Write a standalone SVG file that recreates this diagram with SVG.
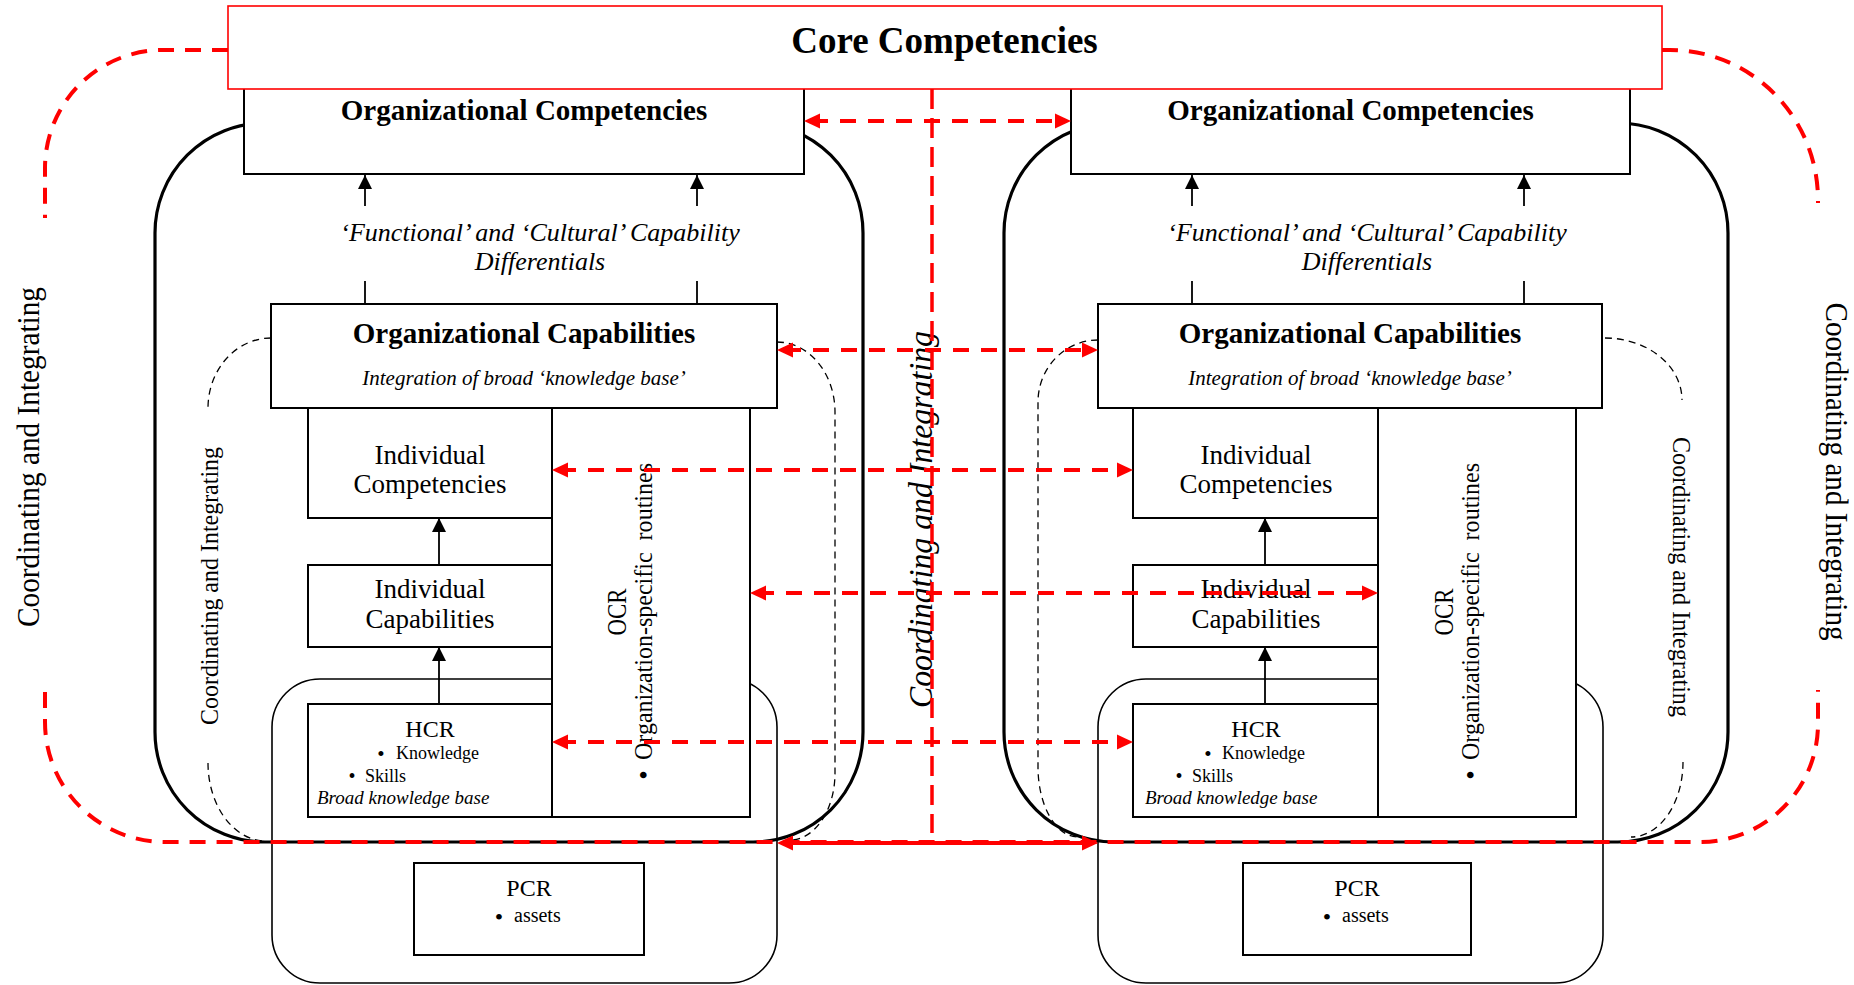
<svg xmlns="http://www.w3.org/2000/svg" width="1854" height="985" viewBox="0 0 1854 985">
<defs>
<style>
text{font-family:"Liberation Serif","Times New Roman",serif;fill:#000}
.box{fill:#fff;stroke:#000;stroke-width:2}
.big{fill:none;stroke:#000;stroke-width:3.2}
.inner{fill:none;stroke:#000;stroke-width:1.6}
.thin{fill:none;stroke:#000;stroke-width:1.3;stroke-dasharray:7 5}
.red{fill:none;stroke:#f00;stroke-width:4;stroke-dasharray:16 12}
.loop{fill:none;stroke:#f00;stroke-width:4;stroke-dasharray:16 11}
.vline{fill:none;stroke:#f00;stroke-width:3.5;stroke-dasharray:20 9}
.solidred{fill:none;stroke:#f00;stroke-width:4}
.blk{stroke:#000;stroke-width:1.8;fill:none}
.b{font-weight:bold}
.i{font-style:italic}
.m{text-anchor:middle}
</style>
<marker id="ra" markerUnits="userSpaceOnUse" markerWidth="16" markerHeight="16" viewBox="0 0 16 16" refX="8" refY="8" orient="auto-start-reverse"><path d="M0,0.5 L16,8 L0,15.5 Z" fill="#f00"/></marker>
<marker id="ba" markerUnits="userSpaceOnUse" markerWidth="14" markerHeight="14" viewBox="0 0 14 14" refX="14" refY="7" orient="auto"><path d="M0,0 L14,7 L0,14 Z" fill="#000"/></marker>
</defs>
<rect width="1854" height="985" fill="#fff"/>

<!-- containers -->
<g id="firm-L">
<rect class="big" x="155" y="123" width="708" height="719" rx="110" ry="110"/>
<rect class="inner" x="272" y="679" width="505" height="304" rx="48" ry="48"/>
<path class="thin" d="M271 338 A63 70 0 0 0 208 408"/>
<path class="thin" d="M208 763 A58 78 0 0 0 266 841"/>
<path class="thin" d="M777 342 A58 70 0 0 1 835 412 L835 773 A45 67 0 0 1 790 840"/>
</g>
<g id="firm-R">
<rect class="big" x="1004" y="123" width="724" height="719" rx="110" ry="110"/>
<rect class="inner" x="1098" y="679" width="505" height="304" rx="48" ry="48"/>
<path class="thin" d="M1098 340 A60 62 0 0 0 1038 402 L1038 767 A40 70 0 0 0 1078 837"/>
<path class="thin" d="M1605 338 A77 62 0 0 1 1682 400"/>
<path class="thin" d="M1683 762 A52 75 0 0 1 1631 837"/>
</g>

<!-- left nodes -->
<g id="orgcomp-L"><rect class="box" x="244" y="80" width="560" height="94"/><text class="b m" x="524" y="120" font-size="29">Organizational Competencies</text></g>
<g id="diff-L"><text class="i m" x="540" y="241" font-size="26">‘Functional’ and ‘Cultural’ Capability</text><text class="i m" x="540" y="270" font-size="26">Differentials</text></g>
<g id="orgcap-L"><rect class="box" x="271" y="304" width="506" height="104"/><text class="b m" x="524" y="343" font-size="29">Organizational Capabilities</text><text class="i m" x="524" y="385" font-size="21">Integration of broad ‘knowledge base’</text></g>
<g id="ocr-L"><rect class="box" x="552" y="408" width="198" height="409"/>
<text class="m" transform="translate(626,612) rotate(-90)" font-size="28" textLength="47" lengthAdjust="spacingAndGlyphs">OCR</text>
<text class="m" transform="translate(652,611.5) rotate(-90)" font-size="25" textLength="297" lengthAdjust="spacingAndGlyphs" xml:space="preserve">Organization-specific  routines</text>
<text class="m" transform="translate(653,775) rotate(-90)" font-size="27">•</text></g>
<g id="indcomp-L"><rect class="box" x="308" y="408" width="244" height="110"/><text class="m" x="430" y="464" font-size="27">Individual</text><text class="m" x="430" y="493" font-size="27">Competencies</text></g>
<g id="indcap-L"><rect class="box" x="308" y="565" width="244" height="82"/><text class="m" x="430" y="598" font-size="27">Individual</text><text class="m" x="430" y="628" font-size="27">Capabilities</text></g>
<g id="hcr-L"><rect class="box" x="308" y="704" width="244" height="113"/><text class="m" x="430" y="737" font-size="24">HCR</text>
<text class="m" x="381" y="761" font-size="21">•</text><text x="396" y="759" font-size="18">Knowledge</text>
<text class="m" x="352" y="783" font-size="20">•</text><text x="365" y="782" font-size="18">Skills</text>
<text class="i" x="317" y="804" font-size="19">Broad knowledge base</text></g>
<g id="pcr-L"><rect class="box" x="414" y="863" width="230" height="92"/><text class="m" x="529" y="896" font-size="24">PCR</text><text class="m" x="499" y="925" font-size="24">•</text><text x="514" y="922" font-size="20">assets</text></g>

<!-- right nodes -->
<g id="orgcomp-R"><rect class="box" x="1071" y="80" width="559" height="94"/><text class="b m" x="1350.5" y="120" font-size="29">Organizational Competencies</text></g>
<g id="diff-R"><text class="i m" x="1367" y="241" font-size="26">‘Functional’ and ‘Cultural’ Capability</text><text class="i m" x="1367" y="270" font-size="26">Differentials</text></g>
<g id="orgcap-R"><rect class="box" x="1098" y="304" width="504" height="104"/><text class="b m" x="1350" y="343" font-size="29">Organizational Capabilities</text><text class="i m" x="1350" y="385" font-size="21">Integration of broad ‘knowledge base’</text></g>
<g id="ocr-R"><rect class="box" x="1378" y="408" width="198" height="409"/>
<text class="m" transform="translate(1453,612) rotate(-90)" font-size="28" textLength="47" lengthAdjust="spacingAndGlyphs">OCR</text>
<text class="m" transform="translate(1479,611.5) rotate(-90)" font-size="25" textLength="297" lengthAdjust="spacingAndGlyphs" xml:space="preserve">Organization-specific  routines</text>
<text class="m" transform="translate(1480,775) rotate(-90)" font-size="27">•</text></g>
<g id="indcomp-R"><rect class="box" x="1133" y="408" width="245" height="110"/><text class="m" x="1256" y="464" font-size="27">Individual</text><text class="m" x="1256" y="493" font-size="27">Competencies</text></g>
<g id="indcap-R"><rect class="box" x="1133" y="565" width="245" height="82"/><text class="m" x="1256" y="598" font-size="27">Individual</text><text class="m" x="1256" y="628" font-size="27">Capabilities</text></g>
<g id="hcr-R"><rect class="box" x="1133" y="704" width="245" height="113"/><text class="m" x="1256" y="737" font-size="24">HCR</text>
<text class="m" x="1208" y="761" font-size="21">•</text><text x="1222" y="759" font-size="18">Knowledge</text>
<text class="m" x="1179" y="783" font-size="20">•</text><text x="1192" y="782" font-size="18">Skills</text>
<text class="i" x="1145" y="804" font-size="19">Broad knowledge base</text></g>
<g id="pcr-R"><rect class="box" x="1243" y="863" width="228" height="92"/><text class="m" x="1357" y="896" font-size="24">PCR</text><text class="m" x="1327" y="925" font-size="24">•</text><text x="1342" y="922" font-size="20">assets</text></g>

<!-- core -->
<g id="core"><rect x="228" y="6" width="1434" height="83" fill="#fff" stroke="#f00" stroke-width="1.6"/><text class="b m" x="944.5" y="53" font-size="37">Core Competencies</text></g>

<!-- side labels -->
<g id="labels">
<text class="m" transform="translate(39,457) rotate(-90)" font-size="32" textLength="340" lengthAdjust="spacingAndGlyphs">Coordinating and Integrating</text>
<text class="m" transform="translate(1826,471.5) rotate(90)" font-size="32" textLength="338" lengthAdjust="spacingAndGlyphs">Coordinating and Integrating</text>
<text class="m" transform="translate(218,586) rotate(-90)" font-size="25" textLength="278" lengthAdjust="spacingAndGlyphs">Coordinating and Integrating</text>
<text class="m" transform="translate(1673,577) rotate(90)" font-size="25" textLength="280" lengthAdjust="spacingAndGlyphs">Coordinating and Integrating</text>
<text class="m i" transform="translate(932,519.5) rotate(-90)" font-size="33" textLength="377" lengthAdjust="spacingAndGlyphs">Coordinating and Integrating</text>
</g>

<!-- connectors -->
<g id="connectors">
<path class="blk" d="M365 206 V175" marker-end="url(#ba)"/>
<path class="blk" d="M697 206 V175" marker-end="url(#ba)"/>
<path class="blk" d="M365 281 V304 M697 281 V304"/>
<path class="blk" d="M1192 206 V175" marker-end="url(#ba)"/>
<path class="blk" d="M1524 206 V175" marker-end="url(#ba)"/>
<path class="blk" d="M1192 281 V304 M1524 281 V304"/>
<path class="blk" d="M439 565 V518" marker-end="url(#ba)"/>
<path class="blk" d="M439 704 V647" marker-end="url(#ba)"/>
<path class="blk" d="M1265 565 V518" marker-end="url(#ba)"/>
<path class="blk" d="M1265 704 V647" marker-end="url(#ba)"/>

<path class="loop" d="M228 50 H163 A118 118 0 0 0 45 168 V218"/>
<path class="loop" d="M1662 50 H1670 A148 150 0 0 1 1818 200 V203"/>
<path class="loop" d="M45 692 V722 A120 120 0 0 0 165 842 H1700 A118 118 0 0 0 1818 724 V690"/>
<path class="vline" d="M932 89 V833"/>

<path class="red" d="M812 121 H1063" marker-start="url(#ra)" marker-end="url(#ra)"/>
<path class="red" d="M785 350 H1090" marker-start="url(#ra)" marker-end="url(#ra)"/>
<path class="red" d="M560 470 H1125" marker-start="url(#ra)" marker-end="url(#ra)"/>
<path class="red" d="M758 593 H1370" marker-start="url(#ra)" marker-end="url(#ra)"/>
<path class="red" d="M560 742 H1125" marker-start="url(#ra)" marker-end="url(#ra)"/>
<path class="solidred" d="M785 843 H1090" marker-start="url(#ra)" marker-end="url(#ra)"/>
</g>
</svg>
